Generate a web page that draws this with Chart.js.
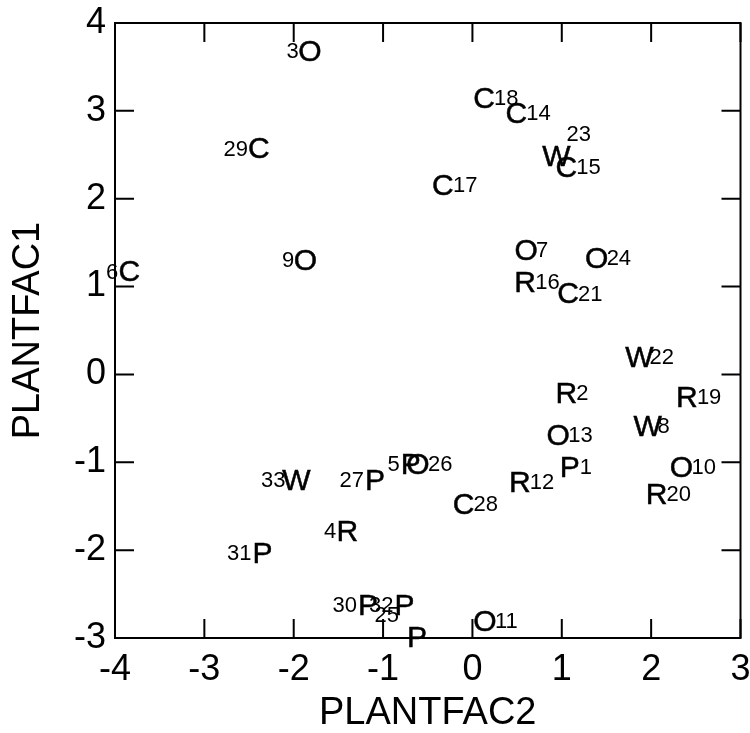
<!DOCTYPE html>
<html>
<head>
<meta charset="utf-8">
<script src="https://cdn.jsdelivr.net/npm/chart.js@4.4.1/dist/chart.umd.min.js"></script>
<style>
  html, body { margin: 0; padding: 0; background: #fff; }
  #wrap { width: 750px; height: 733px; }
</style>
</head>
<body>
<div id="wrap"><canvas id="plot" width="750" height="733"></canvas></div>
<script>
// one entry per sample: group letter, sample number, factor scores
const letters = ['P','R','O','R','P','C','O','W','O','O','O','R','O','C','C','R','C',
                 'C','R','R','C','W','W','O','P','O','P','C','C','P','P','P','W'];
const ids = [1,2,3,4,5,6,7,8,9,10,11,12,13,14,15,16,17,18,19,20,21,22,23,24,25,26,27,28,29,30,31,32,33];
const plantfac2 = [1.09, 1.05, -1.82, -1.40, -0.69, -3.84, 0.60, 1.96, -1.87, 2.34, 0.14,
                   0.53, 0.96, 0.49, 1.05, 0.59, -0.33, 0.13, 2.40, 2.06, 1.07, 1.87,
                   0.94, 1.39, -0.62, -0.61, -1.09, -0.10, -2.39, -1.17, -2.35, -0.76, -1.97];
const plantfac1 = [-1.04, -0.20, 3.69, -1.77, -1.01, 1.18, 1.42, -0.58, 1.31, -1.05, -2.80,
                   -1.22, -0.68, 2.98, 2.37, 1.06, 2.16, 3.16, -0.25, -1.35, 0.93, 0.21,
                   2.49, 1.33, -2.98, -1.01, -1.19, -1.47, 2.58, -2.62, -2.02, -2.62, -1.19];
// which side of the letter the sample number sits on
const numberSide = ['e','e','w','w','w','w','e','e','w','e','e','e','e','e','e','e','e',
                    'e','e','e','e','e','ne','e','nw','e','w','e','w','w','w','w','w'];

const xTicks = [-4, -3, -2, -1, 0, 1, 2, 3];
const yTicks = [-3, -2, -1, 0, 1, 2, 3, 4];

const FONT = '"Liberation Sans", Arial, Helvetica, sans-serif';
const TICK_LEN = 19;
const SIDE = {
  e:  { align: 'left',  dx: 10,  dy: 0 },
  w:  { align: 'right', dx: -11, dy: 0 },
  ne: { align: 'left',  dx: 10,  dy: -22 },
  nw: { align: 'right', dx: -18, dy: -22 }
};

const letterPlugin = {
  id: 'letterPlugin',
  afterDatasetsDraw(chart) {
    const ctx = chart.ctx;
    const pts = chart.getDatasetMeta(0).data;
    ctx.save();
    ctx.fillStyle = '#000';
    ctx.strokeStyle = '#000';
    ctx.lineWidth = 0.5;
    ctx.textBaseline = 'alphabetic';
    pts.forEach((pt, i) => {
      ctx.font = '30px ' + FONT;
      ctx.textAlign = 'center';
      ctx.fillText(letters[i], pt.x, pt.y + 10.7);
      ctx.strokeText(letters[i], pt.x, pt.y + 10.7);
      const s = SIDE[numberSide[i]];
      ctx.font = '22px ' + FONT;
      ctx.textAlign = s.align;
      ctx.fillText(String(ids[i]), pt.x + s.dx, pt.y + s.dy + 7.8);
    });
    ctx.restore();
  }
};

const framePlugin = {
  id: 'framePlugin',
  afterDraw(chart) {
    const { ctx, chartArea: a, scales: { x, y } } = chart;
    ctx.save();
    ctx.strokeStyle = '#000';
    ctx.lineWidth = 2;
    ctx.strokeRect(a.left, a.top, a.right - a.left, a.bottom - a.top);
    ctx.beginPath();
    x.ticks.forEach(t => {
      const px = x.getPixelForValue(t.value);
      ctx.moveTo(px, a.bottom); ctx.lineTo(px, a.bottom - TICK_LEN);
      ctx.moveTo(px, a.top); ctx.lineTo(px, a.top + TICK_LEN);
    });
    y.ticks.forEach(t => {
      const py = y.getPixelForValue(t.value);
      ctx.moveTo(a.left, py); ctx.lineTo(a.left + TICK_LEN, py);
      ctx.moveTo(a.right, py); ctx.lineTo(a.right - TICK_LEN, py);
    });
    ctx.stroke();
    ctx.restore();
  }
};

new Chart(document.getElementById('plot'), {
  type: 'scatter',
  data: {
    datasets: [{
      data: plantfac2.map((v, i) => ({ x: v, y: plantfac1[i] })),
      pointRadius: 0,
      pointHoverRadius: 0
    }]
  },
  options: {
    responsive: false,
    animation: false,
    layout: { padding: { left: 0, top: 23, right: 9.5, bottom: 0 } },
    plugins: { legend: { display: false }, tooltip: { enabled: false } },
    scales: {
      x: {
        type: 'linear',
        min: -4, max: 3,
        afterBuildTicks: s => { s.ticks = xTicks.map(v => ({ value: v })); },
        afterFit: s => { s.height = 95; s.paddingLeft = 0; s.paddingRight = 0; },
        grid: { display: false, drawTicks: false },
        border: { display: false },
        ticks: {
          color: '#000', padding: 14, maxRotation: 0, autoSkip: false,
          font: { family: FONT, size: 36, lineHeight: 1 },
          callback: v => String(v)
        },
        title: {
          display: true, text: 'PLANTFAC2', color: '#000',
          font: { family: FONT, size: 38, lineHeight: 1 },
          padding: { top: 0, bottom: 0 }
        }
      },
      y: {
        type: 'linear',
        min: -3, max: 4,
        afterBuildTicks: s => { s.ticks = yTicks.map(v => ({ value: v })); },
        afterFit: s => { s.width = 115; s.paddingTop = 0; s.paddingBottom = 0; },
        grid: { display: false, drawTicks: false },
        border: { display: false },
        ticks: {
          color: '#000', padding: 9, autoSkip: false,
          font: { family: FONT, size: 36, lineHeight: 1 },
          callback: v => String(v)
        },
        title: {
          display: true, text: 'PLANTFAC1', color: '#000',
          font: { family: FONT, size: 38, lineHeight: 1 },
          padding: { top: 10, bottom: 0 }
        }
      }
    }
  },
  plugins: [letterPlugin, framePlugin]
});
</script>
</body>
</html>
